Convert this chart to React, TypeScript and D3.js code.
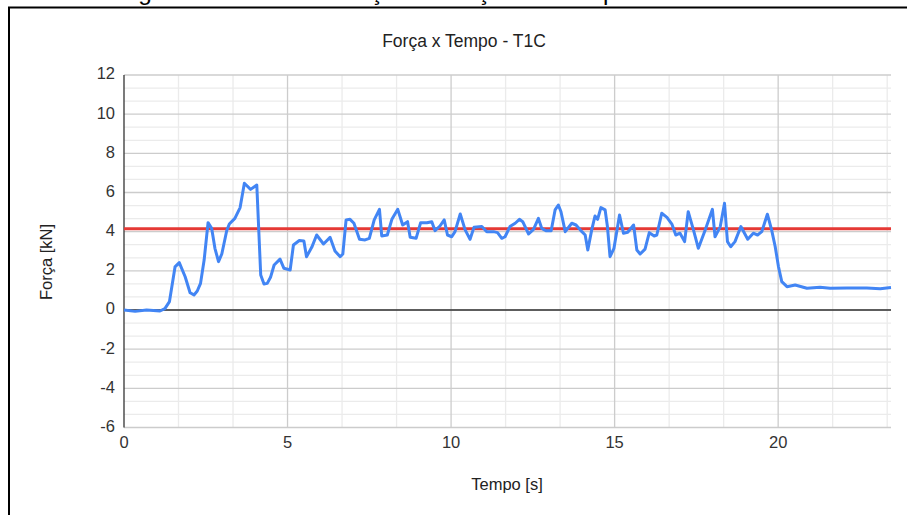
import React, { useRef, useEffect } from 'react';
import * as d3 from 'd3';

// Força x Tempo - T1C
const tempo = [
  0, 0.34, 0.69, 1.1, 1.25, 1.39, 1.56, 1.69, 1.87, 2.02, 2.14, 2.24, 2.34, 2.45, 2.57, 2.68, 2.78, 2.89, 2.99,
  3.14, 3.22, 3.39, 3.55, 3.68, 3.87, 4.06, 4.18, 4.28, 4.38, 4.48, 4.59, 4.77, 4.89, 5.08, 5.18, 5.36, 5.5,
  5.58, 5.74, 5.89, 6.1, 6.3, 6.45, 6.61, 6.69, 6.79, 6.91, 7.03, 7.2, 7.37, 7.5, 7.65, 7.81, 7.88, 8.05, 8.19,
  8.37, 8.52, 8.67, 8.75, 8.93, 9.07, 9.26, 9.41, 9.51, 9.66, 9.79, 9.89, 10.02, 10.12, 10.28, 10.43, 10.58,
  10.7, 10.94, 11.09, 11.3, 11.42, 11.55, 11.65, 11.8, 11.96, 12.09, 12.19, 12.37, 12.52, 12.67, 12.77, 12.9,
  13.06, 13.18, 13.28, 13.36, 13.49, 13.69, 13.82, 14.0, 14.1, 14.18, 14.3, 14.4, 14.48, 14.58, 14.71, 14.78,
  14.86, 14.98, 15.15, 15.27, 15.4, 15.58, 15.68, 15.78, 15.93, 16.06, 16.21, 16.29, 16.44, 16.6, 16.75, 16.87,
  17.0, 17.14, 17.25, 17.41, 17.56, 17.77, 17.99, 18.07, 18.23, 18.36, 18.45, 18.55, 18.68, 18.86, 19.07, 19.24,
  19.37, 19.5, 19.67, 19.8, 19.91, 20.01, 20.11, 20.27, 20.52, 20.88, 21.28, 21.59, 22.1, 22.71, 23.12, 23.45,
];
const forca = [
  0, -0.07, 0, -0.05, 0.07, 0.43, 2.2, 2.42, 1.7, 0.88, 0.77, 0.97, 1.36, 2.55, 4.46, 4.17, 3.15, 2.47, 2.86,
  4.05, 4.39, 4.68, 5.23, 6.47, 6.16, 6.38, 1.79, 1.33, 1.36, 1.67, 2.3, 2.6, 2.13, 2.04, 3.32, 3.55, 3.52,
  2.72, 3.2, 3.83, 3.37, 3.71, 3.01, 2.72, 2.86, 4.6, 4.63, 4.43, 3.61, 3.58, 3.66, 4.6, 5.14, 3.78, 3.83, 4.63,
  5.14, 4.34, 4.51, 3.71, 3.66, 4.46, 4.46, 4.51, 4.05, 4.29, 4.6, 3.83, 3.74, 4.0, 4.9, 4.09, 3.61,
  4.22, 4.26, 4.0, 4.0, 3.95, 3.66, 3.74, 4.26, 4.43, 4.63, 4.51, 3.88, 4.12, 4.68, 4.17, 4.05,
  4.05, 5.11, 5.36, 5.02, 4.0, 4.43, 4.34, 4.0, 3.83, 3.06, 4.09, 4.8, 4.63, 5.23, 5.11, 4.26,
  2.72, 3.15, 4.85, 3.92, 3.97, 4.34, 3.06, 2.86, 3.11, 3.95, 3.78, 3.83, 4.94, 4.73, 4.39, 3.83,
  3.92, 3.49, 5.02, 4.09, 3.15, 4.09, 5.14, 3.74, 4.26, 5.45, 3.49, 3.23, 3.49, 4.26, 3.61, 3.92,
  3.83, 4.0, 4.89, 4.09, 3.23, 2.21, 1.45, 1.19, 1.28, 1.11, 1.16, 1.11, 1.12, 1.12, 1.09, 1.15,
];
const forcaMedia = 4.15;
const xTicks = [0, 5, 10, 15, 20];
const yTicks = [-6, -4, -2, 0, 2, 4, 6, 8, 10, 12];

export default function App() {
  const ref = useRef<SVGSVGElement>(null);

  useEffect(() => {
    const svg = d3.select(ref.current);
    svg.selectAll('*').remove();

    const width = 907;
    const height = 515;
    const left = 124;
    const right = 891;
    const top = 75;
    const bottom = 427.5;
    const font = 'Liberation Sans, Arial, sans-serif';

    svg.attr('width', width).attr('height', height);

    const x = d3.scaleLinear().domain([0, 23.45]).range([left, right]);
    const y = d3.scaleLinear().domain([-6, 12]).range([bottom, top]);

    // caption of the page, cut by the top edge (only descenders show)
    svg.append('text')
      .attr('x', 118)
      .attr('y', -0.5)
      .attr('font-family', font)
      .attr('font-size', 24.4)
      .attr('fill', '#000')
      .text('Figura 37 – Gráfico Força em função do Tempo');

    // frame
    svg.append('line').attr('x1', 8).attr('x2', width).attr('y1', 7.5).attr('y2', 7.5)
      .attr('stroke', '#000').attr('stroke-width', 2);
    svg.append('line').attr('x1', 9).attr('x2', 9).attr('y1', 7).attr('y2', height)
      .attr('stroke', '#000').attr('stroke-width', 2);

    // title
    svg.append('text')
      .attr('x', 464).attr('y', 42)
      .attr('text-anchor', 'middle').attr('dominant-baseline', 'middle')
      .attr('font-family', font).attr('font-size', 17.5).attr('fill', '#222')
      .text('Força x Tempo - T1C');

    const grid = svg.append('g');
    // minor gridlines, two between majors
    const yMinor = d3.range(-6, 12, 2).flatMap(v => [v + 2 / 3, v + 4 / 3]);
    const xMinor = d3.range(0, 25, 5).flatMap(v => [v + 5 / 3, v + 10 / 3]).filter(v => v < 23.45);
    grid.selectAll('.ym').data(yMinor).join('line')
      .attr('x1', left).attr('x2', right).attr('y1', d => y(d)).attr('y2', d => y(d))
      .attr('stroke', '#ebebeb').attr('stroke-width', 1.3);
    grid.selectAll('.xm').data(xMinor).join('line')
      .attr('x1', d => x(d)).attr('x2', d => x(d)).attr('y1', top).attr('y2', bottom)
      .attr('stroke', '#ebebeb').attr('stroke-width', 1.3);
    grid.selectAll('.yM').data(yTicks).join('line')
      .attr('x1', left).attr('x2', right).attr('y1', d => y(d)).attr('y2', d => y(d))
      .attr('stroke', '#cccccc').attr('stroke-width', 1.3);
    grid.selectAll('.xM').data(xTicks.slice(1)).join('line')
      .attr('x1', d => x(d)).attr('x2', d => x(d)).attr('y1', top).attr('y2', bottom)
      .attr('stroke', '#cccccc').attr('stroke-width', 1.3);

    // baselines
    svg.append('line').attr('x1', left).attr('x2', right).attr('y1', y(0)).attr('y2', y(0))
      .attr('stroke', '#333').attr('stroke-width', 1.3);
    svg.append('line').attr('x1', x(0)).attr('x2', x(0)).attr('y1', top).attr('y2', bottom)
      .attr('stroke', '#333').attr('stroke-width', 1.3);

    // tick labels
    svg.append('g').selectAll('text').data(yTicks).join('text')
      .attr('x', 115).attr('y', d => y(d))
      .attr('text-anchor', 'end').attr('dominant-baseline', 'middle')
      .attr('font-family', font).attr('font-size', 16.5).attr('fill', '#333')
      .text(d => d);
    svg.append('g').selectAll('text').data(xTicks).join('text')
      .attr('x', d => x(d)).attr('y', 444)
      .attr('text-anchor', 'middle').attr('dominant-baseline', 'middle')
      .attr('font-family', font).attr('font-size', 16.5).attr('fill', '#333')
      .text(d => d);

    // axis titles
    svg.append('text')
      .attr('x', 507).attr('y', 486)
      .attr('text-anchor', 'middle').attr('dominant-baseline', 'middle')
      .attr('font-family', font).attr('font-size', 16.5).attr('fill', '#222')
      .text('Tempo [s]');
    svg.append('text')
      .attr('transform', 'translate(48, 262) rotate(-90)')
      .attr('text-anchor', 'middle').attr('dominant-baseline', 'middle')
      .attr('font-family', font).attr('font-size', 16.5).attr('fill', '#222')
      .text('Força [kN]');

    // mean force line
    svg.append('line')
      .attr('x1', left).attr('x2', right).attr('y1', y(forcaMedia)).attr('y2', y(forcaMedia))
      .attr('stroke', '#e53935').attr('stroke-width', 3);

    // force curve
    const pts = tempo.map((t, i) => [t, forca[i]] as [number, number]);
    const line = d3.line<[number, number]>().x(d => x(d[0])).y(d => y(d[1]));
    svg.append('path')
      .attr('d', line(pts))
      .attr('fill', 'none')
      .attr('stroke', '#4285f4')
      .attr('stroke-width', 3)
      .attr('stroke-linejoin', 'round');
  }, []);

  return <svg ref={ref} style={{ position: 'absolute', left: 0, top: 0 }} />;
}
